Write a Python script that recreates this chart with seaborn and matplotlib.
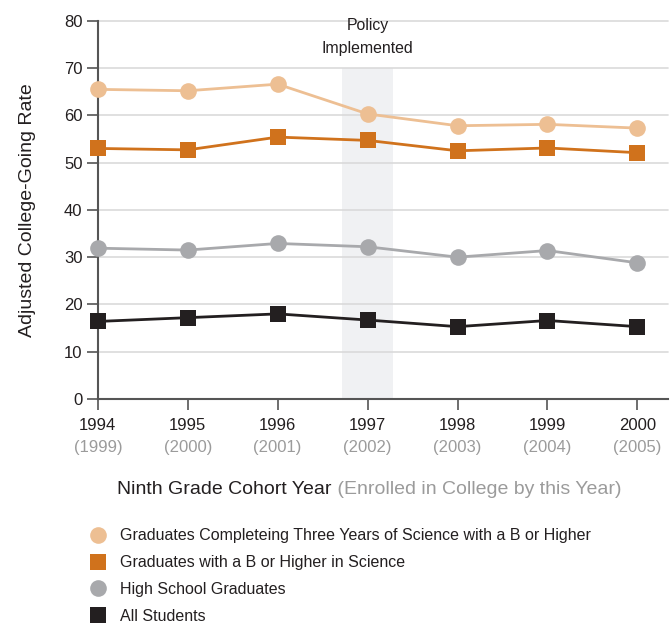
import numpy as np
import pandas as pd
import matplotlib
matplotlib.use("Agg")
import matplotlib.pyplot as plt
import matplotlib.transforms as mtransforms
from matplotlib.lines import Line2D
import seaborn as sns

# ===============================
# Data
# ===============================
years = [1994, 1995, 1996, 1997, 1998, 1999, 2000]
enrolled_years = ["(1999)", "(2000)", "(2001)", "(2002)", "(2003)", "(2004)", "(2005)"]

science_b_three_years = [65.5, 65.2, 66.6, 60.3, 57.8, 58.1, 57.3]
science_b_or_higher = [53.0, 52.7, 55.4, 54.7, 52.5, 53.1, 52.1]
hs_graduates = [31.9, 31.5, 32.9, 32.2, 30.0, 31.4, 28.8]
all_students = [16.4, 17.2, 18.0, 16.7, 15.3, 16.6, 15.3]

series_names = [
    "Graduates Completeing Three Years of Science with a B or Higher",
    "Graduates with a B or Higher in Science",
    "High School Graduates",
    "All Students",
]
series_values = [science_b_three_years, science_b_or_higher, hs_graduates, all_students]
series_colors = ["#EDBF93", "#D0721C", "#A8A9AC", "#231F20"]
series_markers = ["o", "s", "o", "s"]

policy_year = 1997

df = pd.concat(
    [pd.DataFrame({"year": years, "rate": v, "group": n}) for n, v in zip(series_names, series_values)],
    ignore_index=True,
)

# ===============================
# Style
# ===============================
sns.set_style("white")
plt.rcParams["font.family"] = ["Liberation Sans Narrow", "Liberation Sans", "DejaVu Sans"]

fig = plt.figure(figsize=(6.7, 6.23), dpi=100)
ax = fig.add_axes([0.146, 0.3596, 0.851, 0.607])

# policy band
ax.axvspan(policy_year - 0.28, policy_year + 0.28, ymin=0, ymax=70 / 80, color="#F0F1F3", zorder=0, lw=0)

for y in range(10, 90, 10):
    ax.axhline(y, color="#DADADA", lw=1.2, zorder=0.5)

sns.lineplot(
    data=df, x="year", y="rate", hue="group", style="group",
    hue_order=series_names, style_order=series_names,
    palette=dict(zip(series_names, series_colors)),
    markers=dict(zip(series_names, series_markers)),
    dashes=False, markersize=12, markeredgewidth=0, linewidth=2,
    legend=False, ax=ax, zorder=3,
)
for line in ax.lines:
    line.set_clip_on(False)

ax.set_xlim(1994, 2000.34)
ax.set_ylim(0, 80)
ax.set_yticks(range(0, 90, 10))
ax.set_xticks(years)
ax.set_xticklabels([str(y) for y in years], fontsize=12, color="#231F20")
ax.tick_params(axis="y", labelsize=12, labelcolor="#231F20", length=8, width=1.2, color="#555555", pad=3, direction="out", left=True)
ax.tick_params(axis="x", length=8, width=1.2, color="#555555", pad=6, direction="out", bottom=True)

for side in ["top", "right"]:
    ax.spines[side].set_visible(False)
for side in ["left", "bottom"]:
    ax.spines[side].set_color("#555555")
    ax.spines[side].set_linewidth(1.5)

# enrolled-year sub labels
trans = mtransforms.blended_transform_factory(ax.transData, ax.transAxes)
for yr, lab in zip(years, enrolled_years):
    ax.text(yr, -0.128, lab, transform=trans, ha="center", va="center", fontsize=12, color="#9B9B9B")

ax.set_xlabel("")
ax.set_ylabel("Adjusted College-Going Rate", fontsize=14, color="#231F20", labelpad=20)

# policy annotation
ax.text(policy_year, 79.1, "Policy", ha="center", va="center", fontsize=11.4, color="#231F20", clip_on=False)
ax.text(policy_year, 74.2, "Implemented", ha="center", va="center", fontsize=11.4, color="#231F20", zorder=4)

# x axis title in two colours, centred as a whole
ypos = 1 - 490 / 623
t1 = fig.text(0, ypos, "Ninth Grade Cohort Year", fontsize=14, color="#231F20", ha="left", va="center")
t2 = fig.text(0, ypos, " (Enrolled in College by this Year)", fontsize=14, color="#9B9B9B", ha="left", va="center")
fig.canvas.draw()
w1 = t1.get_window_extent().width
w2 = t2.get_window_extent().width
x0 = 369 - (w1 + w2) / 2
t1.set_x(x0 / 670)
t2.set_x((x0 + w1) / 670)

# legend
handles = [
    Line2D([], [], linestyle="none", marker=m, color=c, markersize=12, markeredgewidth=0)
    for m, c in zip(series_markers, series_colors)
]
fig.legend(
    handles, series_names, loc="upper left", bbox_to_anchor=(0.125, 1 - 522 / 623),
    frameon=False, fontsize=11.5, labelcolor="#231F20", handlelength=1.0, handletextpad=0.9,
    labelspacing=0.74, borderaxespad=0,
)

fig.savefig("out.png", dpi=100)
